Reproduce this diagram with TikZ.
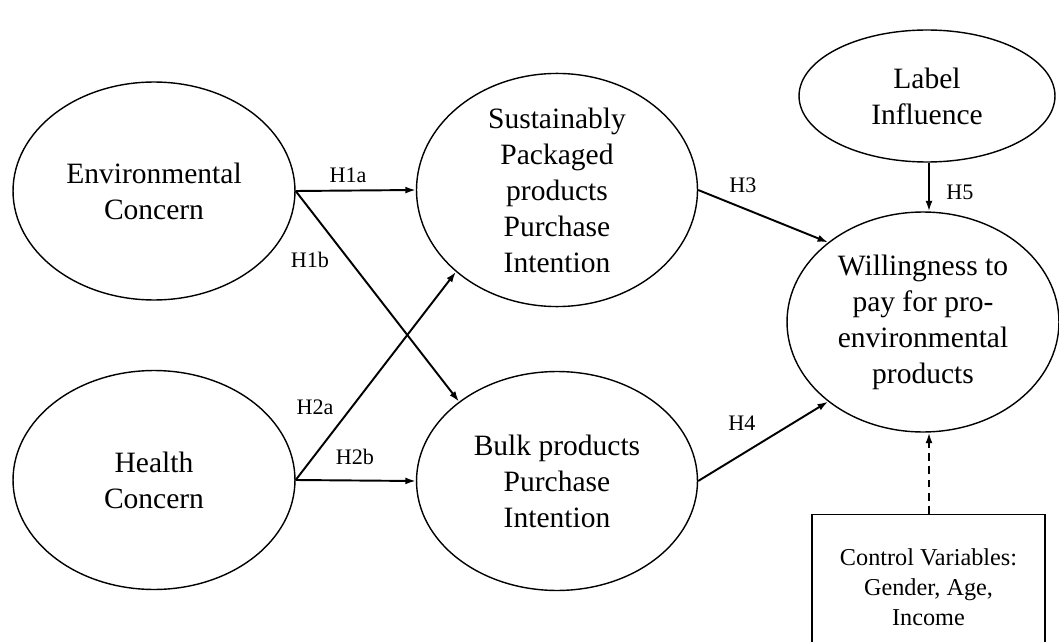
\documentclass[tikz,border=0pt]{standalone}
\usepackage{fontspec}
\setmainfont{Liberation Serif}
\usetikzlibrary{shapes.geometric, arrows.meta, positioning}

\begin{document}
\begin{tikzpicture}[
    x=0.02cm, y=-0.02cm,
    construct/.style={ellipse, draw=black, line width=0.8pt, inner sep=0pt, align=center,
        font=\fontsize{16.8}{20.5}\selectfont},
    ctrlbox/.style={rectangle, draw=black, line width=0.8pt, inner sep=0pt, align=center,
        font=\fontsize{13.8}{17}\selectfont},
    path/.style={-{Latex[length=6pt, width=4pt]}, line width=1.1pt},
    hyp/.style={font=\fontsize{12.6}{14}\selectfont, inner sep=0pt}
]
\useasboundingbox (0, 0) rectangle (1059, 642);

\node[construct, minimum width=5.64cm, minimum height=4.36cm] (env) at (154, 191) {Environmental\\Concern};
\node[construct, minimum width=5.64cm, minimum height=4.38cm] (hlth) at (154, 480) {Health\\Concern};
\node[construct, minimum width=5.62cm, minimum height=4.34cm] (spp) at (557, 190) {Sustainably\\Packaged\\products\\Purchase\\Intention};
\node[construct, minimum width=5.62cm, minimum height=4.38cm] (bulk) at (557, 481) {Bulk products\\Purchase\\Intention};
\node[construct, minimum width=5.12cm, minimum height=2.64cm] (lbl) at (927, 96) {Label\\Influence};
\node[construct, minimum width=5.44cm, minimum height=4.4cm] (wtp) at (923, 322) {Willingness to\\pay for pro-\\environmental\\products};
\node[ctrlbox, minimum width=4.66cm, minimum height=2.9cm] (ctrl) at (928.5, 587) {Control Variables:\\Gender, Age,\\Income};

% Hypothesised paths
\draw[path] (env.east) -- (spp.west);
\draw[path] (env.east) -- (bulk.141);
\draw[path] (hlth.east) -- (spp.219);
\draw[path] (hlth.east) -- (bulk.west);
\draw[path] (spp.east) -- (wtp.140);
\draw[path] (bulk.east) -- (wtp.220);
\draw[path] (lbl.south -| 929, 0) -- (wtp.north -| 929, 0);
\draw[path, dash pattern=on 4.5pt off 3pt] (ctrl.north -| 929, 0) -- (wtp.south -| 929, 0);

% Path labels
\node[hyp] (h1a) at (348, 175) {H1a};
\node[hyp] (h1b) at (310, 260) {H1b};
\node[hyp] (h2a) at (315, 407) {H2a};
\node[hyp] (h2b) at (355, 457) {H2b};
\node[hyp] (h3) at (743, 185) {H3};
\node[hyp] (h4) at (742, 423) {H4};
\node[hyp] (h5) at (960, 192) {H5};
\end{tikzpicture}
\end{document}
